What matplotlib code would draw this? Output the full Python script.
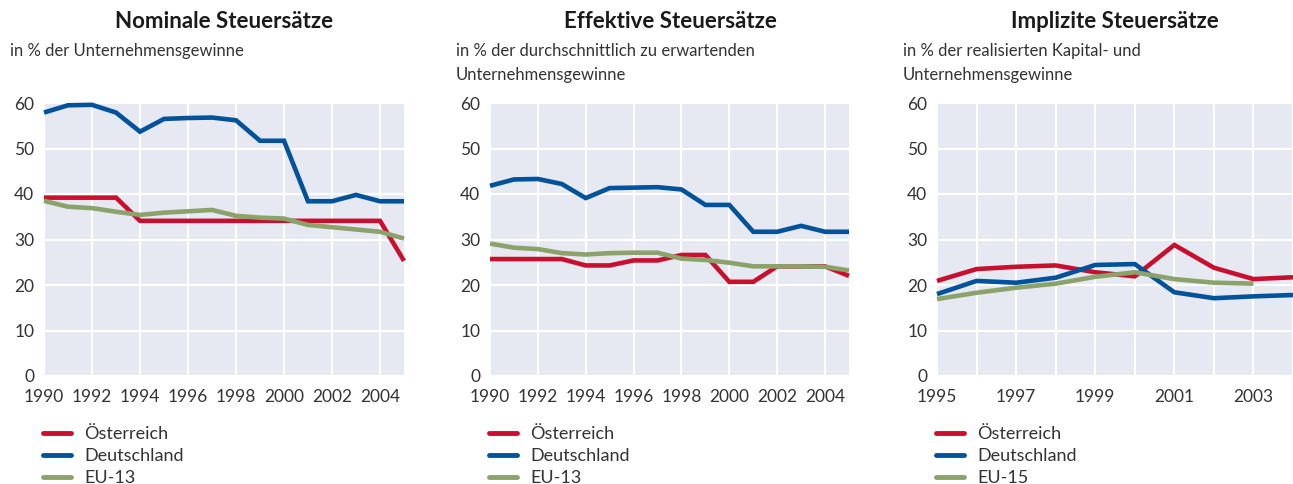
import matplotlib
matplotlib.use("Agg")
import matplotlib.pyplot as plt
from matplotlib.lines import Line2D

plt.rcParams['font.family'] = ['Lato', 'DejaVu Sans']

years_a = list(range(1990, 2006))
nom_at = [39.2, 39.2, 39.2, 39.2, 34.1, 34.1, 34.1, 34.1, 34.1, 34.1, 34.1, 34.1, 34.1, 34.1, 34.1, 25.3]
nom_de = [57.9, 59.5, 59.6, 57.9, 53.7, 56.5, 56.7, 56.8, 56.2, 51.7, 51.7, 38.4, 38.4, 39.8, 38.4, 38.4]
nom_eu = [38.5, 37.2, 36.9, 36.1, 35.4, 35.9, 36.2, 36.5, 35.2, 34.8, 34.6, 33.2, 32.7, 32.2, 31.7, 30.2]

eff_at = [25.7, 25.7, 25.7, 25.7, 24.3, 24.3, 25.4, 25.4, 26.6, 26.6, 20.7, 20.7, 24.1, 24.1, 24.1, 22.0]
eff_de = [41.8, 43.2, 43.3, 42.2, 39.1, 41.3, 41.4, 41.5, 41.0, 37.6, 37.6, 31.7, 31.7, 33.0, 31.7, 31.7]
eff_eu = [29.1, 28.2, 27.9, 27.0, 26.7, 27.0, 27.1, 27.1, 25.8, 25.5, 24.9, 24.1, 24.1, 24.1, 24.0, 23.2]

years_b = list(range(1995, 2005))
imp_at = [20.9, 23.5, 24.0, 24.3, 22.8, 21.9, 28.8, 23.8, 21.3, 21.7]
imp_de = [18.0, 20.9, 20.5, 21.6, 24.4, 24.6, 18.4, 17.1, 17.5, 17.8]
years_eu15 = list(range(1995, 2004))
imp_eu = [16.9, 18.3, 19.4, 20.3, 21.8, 22.8, 21.3, 20.5, 20.3]

titles = ["Nominale Steuersätze", "Effektive Steuersätze", "Implizite Steuersätze"]
subtitles = ["in % der Unternehmensgewinne",
             "in % der durchschnittlich zu erwartenden\nUnternehmensgewinne",
             "in % der realisierten Kapital- und\nUnternehmensgewinne"]
labels_a = ["Österreich", "Deutschland", "EU-13"]
labels_b = ["Österreich", "Deutschland", "EU-15"]

C_AT = "#c8102e"
C_DE = "#00529b"
C_EU = "#8ba26a"
BG = "#e6e8f2"
TXT = "#333333"

W, H = 1293, 484
fig = plt.figure(figsize=(W / 100, H / 100), dpi=100)

def px(x0, y0, x1, y1):
    return [x0 / W, 1 - y1 / H, (x1 - x0) / W, (y1 - y0) / H]

axes = [fig.add_axes(px(44, 103, 404, 376)),
        fig.add_axes(px(490, 103, 849, 376)),
        fig.add_axes(px(937, 103, 1293, 376))]

panels = [
    (years_a, [(years_a, nom_at), (years_a, nom_de), (years_a, nom_eu)], labels_a),
    (years_a, [(years_a, eff_at), (years_a, eff_de), (years_a, eff_eu)], labels_a),
    (years_b, [(years_b, imp_at), (years_b, imp_de), (years_eu15, imp_eu)], labels_b),
]
colors = [C_AT, C_DE, C_EU]
title_x = [224, 670, 1115]
sub_x = [10, 456, 903]
leg_x = [43, 489, 936]

for i, (ax, (yrs, series, labs)) in enumerate(zip(axes, panels)):
    ax.set_facecolor(BG)
    for s in ax.spines.values():
        s.set_visible(False)
    ax.set_ylim(0, 60)
    ax.set_yticks(range(0, 61, 10))
    if i < 2:
        ax.set_xlim(1990, 2005)
        ax.set_xticks(range(1990, 2005, 2))
    else:
        ax.set_xlim(1995, 2004)
        ax.set_xticks(range(1995, 2005, 1))
        ax.set_xticklabels([str(y) if (y - 1995) % 2 == 0 else "" for y in range(1995, 2005)])
    ax.grid(True, color="white", linewidth=1.6)
    ax.set_axisbelow(True)
    ax.tick_params(axis='y', length=0, labelsize=12.5, labelcolor=TXT, pad=7)
    ax.tick_params(axis='x', length=0, labelsize=12.5, labelcolor=TXT, pad=9)
    handles = []
    for (xs, ys), c, lab in zip(series, colors, labs):
        ln, = ax.plot(xs, ys, color=c, linewidth=3.3, solid_capstyle='butt',
                      solid_joinstyle='miter', label=lab, clip_on=False)
        handles.append(ln)
    fig.text(title_x[i] / W, 1 - 21 / H, titles[i], ha='center', va='center',
             fontsize=16, fontweight='bold', color='#1a1a1a')
    fig.text(sub_x[i] / W, 1 - 43 / H, subtitles[i], ha='left', va='top',
             fontsize=12, color=TXT, linespacing=1.65)
    leg = fig.legend(handles=[Line2D([], [], color=c, linewidth=3.5, solid_capstyle='round') for c in colors],
                     labels=labs, loc='upper left',
                     bbox_to_anchor=(leg_x[i] / W, 1 - 426 / H),
                     frameon=False, fontsize=13, handlelength=1.55, handletextpad=0.75,
                     labelspacing=0.33, borderpad=0, borderaxespad=0)
    for t in leg.get_texts():
        t.set_color(TXT)

fig.savefig("out.png", dpi=100)
